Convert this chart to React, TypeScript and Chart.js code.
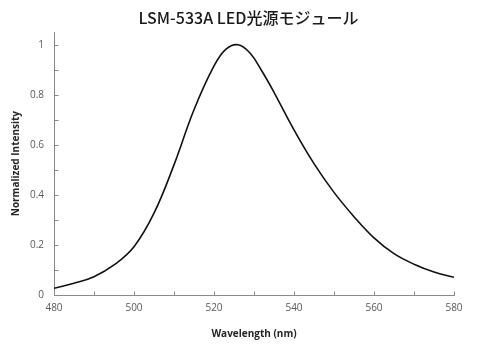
import React, { useEffect, useRef } from "react";
import { Chart, registerables } from "chart.js";

Chart.register(...registerables);

const TITLE = "LSM-533A LED光源モジュール";
const X_TITLE = "Wavelength (nm)";
const Y_TITLE = "Normalized Intensity";

const wavelengths = [480, 485, 490, 495, 500, 505, 510, 515, 520, 523, 526, 529, 532, 535, 540, 545, 550, 555, 560, 565, 570, 575, 580];
const intensity = [0.027, 0.047, 0.073, 0.12, 0.193, 0.327, 0.52, 0.74, 0.915, 0.982, 1.0, 0.967, 0.894, 0.81, 0.66, 0.525, 0.41, 0.313, 0.228, 0.165, 0.123, 0.092, 0.071];

const xMajorTicks = [480, 500, 520, 540, 560, 580];
const xMinorTicks = [490, 510, 530, 550, 570];
const yMajorTicks = [0, 0.2, 0.4, 0.6, 0.8, 1.0];
const yMinorTicks = [0.1, 0.3, 0.5, 0.7, 0.9];

const AXIS_COLOR = "#898989";

const insideTicks = {
  id: "insideTicks",
  afterDraw(chart: any) {
    const { ctx, scales } = chart;
    const xs = scales.x;
    const ys = scales.y;
    ctx.save();
    ctx.strokeStyle = AXIS_COLOR;
    ctx.lineWidth = 1;
    const x0 = Math.round(xs.left) + 0.5;
    const y0 = Math.round(ys.getPixelForValue(0)) + 0.5;
    ctx.beginPath();
    [...xMajorTicks, ...xMinorTicks].forEach((v) => {
      const px = Math.round(xs.getPixelForValue(v)) + 0.5;
      ctx.moveTo(px, y0);
      ctx.lineTo(px, y0 - 4);
    });
    [...yMajorTicks, ...yMinorTicks].forEach((v) => {
      const py = Math.round(ys.getPixelForValue(v)) + 0.5;
      ctx.moveTo(x0, py);
      ctx.lineTo(x0 + 4, py);
    });
    ctx.stroke();
    ctx.restore();
  },
};

export default function App() {
  const ref = useRef<HTMLCanvasElement | null>(null);

  useEffect(() => {
    if (!ref.current) return;
    const chart = new Chart(ref.current, {
      type: "line",
      data: {
        datasets: [
          {
            data: wavelengths.map((w, i) => ({ x: w, y: intensity[i] })),
            borderColor: "#111111",
            borderWidth: 1.6,
            pointRadius: 0,
            fill: false,
            tension: 0.4,
          },
        ],
      },
      options: {
        animation: false,
        responsive: false,
        events: [],
        layout: { padding: { left: 0, right: 3, top: 0, bottom: 0 } },
        plugins: {
          legend: { display: false },
          tooltip: { enabled: false },
          title: {
            display: true,
            text: TITLE,
            color: "#1a1a1a",
            font: { family: "'Noto Sans CJK JP', 'Noto Sans', sans-serif", size: 16, weight: "500" },
            padding: { top: 8, bottom: 5 },
          },
        },
        scales: {
          x: {
            type: "linear",
            min: 480,
            max: 580,
            afterBuildTicks: (scale: any) => {
              scale.ticks = xMajorTicks.map((v) => ({ value: v }));
            },
            afterFit: (scale: any) => {
              scale.height = 58;
            },
            ticks: {
              autoSkip: false,
              maxRotation: 0,
              padding: 7,
              color: "#595959",
              font: { family: "'Open Sans', sans-serif", size: 10 },
              callback: (v: any) => String(v),
            },
            grid: { display: false, drawTicks: false },
            border: { display: true, color: AXIS_COLOR, width: 1 },
            title: {
              display: true,
              text: X_TITLE,
              color: "#262626",
              font: { family: "'Open Sans', sans-serif", size: 10, weight: "bold" },
              padding: { top: 0, bottom: 13 },
            },
          },
          y: {
            type: "linear",
            min: 0,
            max: 1.05,
            afterBuildTicks: (scale: any) => {
              scale.ticks = yMajorTicks.map((v) => ({ value: v }));
            },
            afterFit: (scale: any) => {
              scale.width = 54;
            },
            ticks: {
              autoSkip: false,
              padding: 10,
              color: "#595959",
              font: { family: "'Open Sans', sans-serif", size: 10 },
              callback: (v: any) => String(Math.round(Number(v) * 10) / 10),
            },
            grid: { display: false, drawTicks: false },
            border: { display: true, color: AXIS_COLOR, width: 1 },
            title: {
              display: true,
              text: Y_TITLE,
              color: "#262626",
              font: { family: "'Open Sans', sans-serif", size: 10, weight: "bold" },
              padding: { top: 10, bottom: 0 },
            },
          },
          yPad: {
            type: "linear",
            position: "right",
            display: true,
            min: 0,
            max: 1,
            afterFit: (scale: any) => {
              scale.width = 43;
            },
            ticks: { display: false },
            grid: { display: false, drawTicks: false },
            border: { display: false },
          },
        },
      },
      plugins: [insideTicks],
    } as any);
    return () => chart.destroy();
  }, []);

  return (
    <div style={{ position: "absolute", left: 0, top: 0, width: 500, height: 353, background: "#ffffff" }}>
      <canvas ref={ref} width={500} height={353} style={{ display: "block" }} />
    </div>
  );
}
